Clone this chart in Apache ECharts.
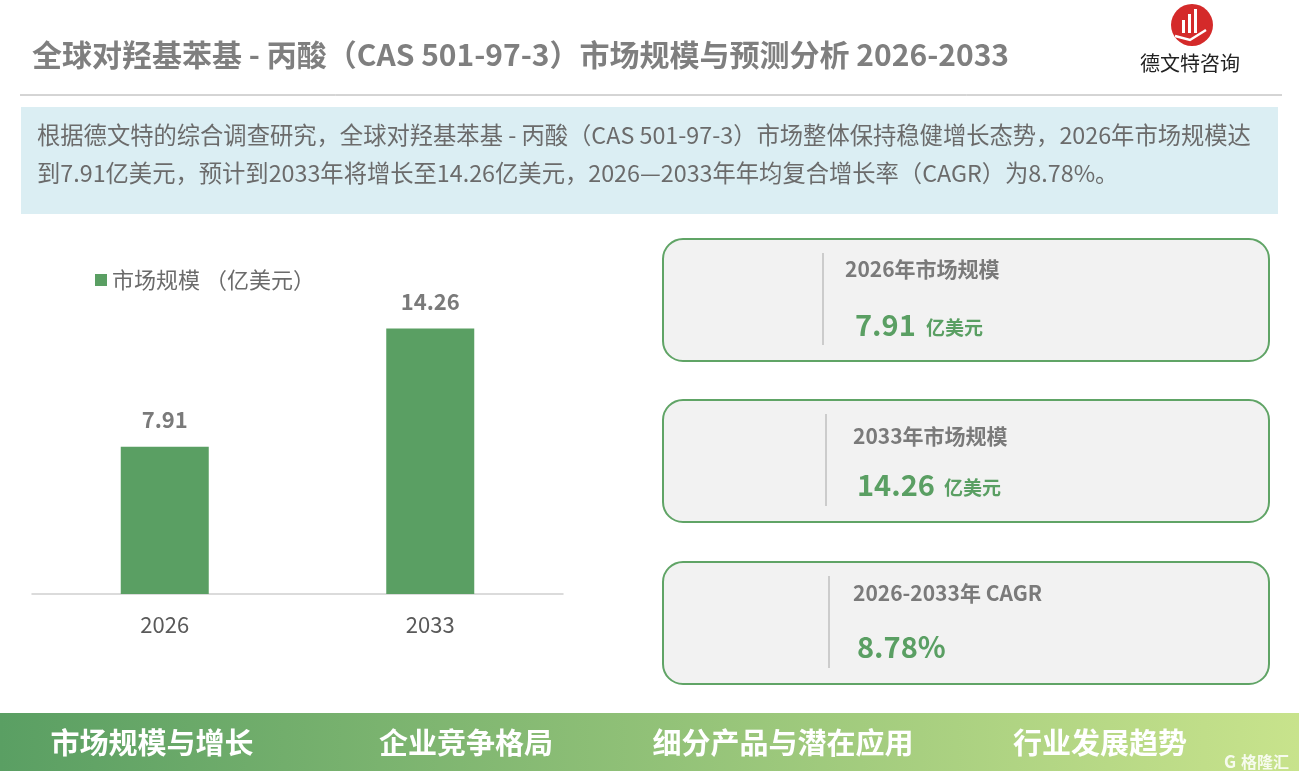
<!DOCTYPE html>
<html><head><meta charset="utf-8">
<script src="https://cdn.jsdelivr.net/npm/echarts@6/dist/echarts.min.js"></script>
<style>html,body{margin:0;padding:0;background:#fff}#c{width:1299px;height:780px}</style>
</head><body><div id="c"></div>
<script>
var categories = ['2026', '2033'];
var marketSize = [7.91, 14.26];
var seriesName = '市场规模 （亿美元）';
var cardTitles = ['2026年市场规模', '2033年市场规模', '2026-2033年 CAGR'];
var cardValues = ['7.91', '14.26', '8.78%'];
var cardUnits = ['亿美元', '亿美元', ''];
var bannerItems = ['市场规模与增长', '企业竞争格局', '细分产品与潜在应用', '行业发展趋势'];
var titleText = '全球对羟基苯基 - 丙酸（CAS 501-97-3）市场规模与预测分析 2026-2033';
var summaryLines = [
  '根据德文特的综合调查研究，全球对羟基苯基 - 丙酸（CAS 501-97-3）市场整体保持稳健增长态势，2026年市场规模达',
  '到7.91亿美元，预计到2033年将增长至14.26亿美元，2026—2033年年均复合增长率（CAGR）为8.78%。'
];

var FONT = '"Noto Sans CJK SC","Noto Sans",sans-serif';
var GREEN = '#5a9f63';
var chart = echarts.init(document.getElementById('c'));

var g = [];
// title
g.push({type:'text', x:32, y:55, style:{text:titleText, font:'bold 30px ' + FONT, fill:'#7f7f7f', textVerticalAlign:'middle'}});
// logo
g.push({type:'circle', shape:{cx:1192, cy:25, r:21}, style:{fill:'#d42a2a'}});
g.push({type:'rect', shape:{x:1182, y:20, width:3, height:13}, style:{fill:'#fff'}});
g.push({type:'rect', shape:{x:1188, y:14, width:3, height:19}, style:{fill:'#fff'}});
g.push({type:'rect', shape:{x:1194, y:9, width:3, height:24}, style:{fill:'#fff'}});
g.push({type:'polyline', shape:{points:[[1175,36],[1190,40],[1206,30]]}, style:{stroke:'#fff', lineWidth:2.5, fill:null}});
g.push({type:'text', x:1140, y:63, style:{text:'德文特咨询', font:'20px ' + FONT, fill:'#222', textVerticalAlign:'middle'}});
// rule
g.push({type:'line', shape:{x1:20, y1:95, x2:1282, y2:95}, style:{stroke:'#aaaaaa', lineWidth:1}});
// summary box
g.push({type:'rect', shape:{x:21, y:107, width:1257, height:107}, style:{fill:'#dbeef3'}});
g.push({type:'text', x:37, y:135, style:{text:summaryLines[0], font:'23.3px ' + FONT, fill:'#6b6b6b', textVerticalAlign:'middle'}});
g.push({type:'text', x:37, y:173, style:{text:summaryLines[1], font:'23.3px ' + FONT, fill:'#6b6b6b', textVerticalAlign:'middle'}});
// cards
var cardTops = [239, 400, 562];
var divX = [823, 826, 829];
var titleX = [845, 853, 853];
var valX = [855, 857, 857];
var titleDy = [30, 36, 31];
var valDy = [86, 85, 85];
for (var i = 0; i < 3; i++) {
  var t = cardTops[i];
  g.push({type:'rect', shape:{x:663, y:t, width:606, height:122, r:20}, style:{fill:'#f2f2f2', stroke:'#60a466', lineWidth:2}});
  g.push({type:'line', shape:{x1:divX[i], y1:t + 14, x2:divX[i], y2:t + 106}, style:{stroke:'#a6a6a6', lineWidth:1}});
  g.push({type:'text', x:titleX[i], y:t + titleDy[i], style:{text:cardTitles[i], font:'bold 21px ' + FONT, fill:'#7a7a7a', textVerticalAlign:'middle'}});
  g.push({type:'text', x:valX[i], y:t + valDy[i], style:{text:cardValues[i], font:'bold 29px ' + FONT, fill:GREEN, textVerticalAlign:'middle'}});
  if (cardUnits[i]) {
    g.push({type:'text', x:valX[i] + (cardValues[i].length === 4 ? 71 : 87), y:t + valDy[i] + 3, style:{text:cardUnits[i], font:'bold 19px ' + FONT, fill:GREEN, textVerticalAlign:'middle'}});
  }
}
// banner
g.push({type:'rect', shape:{x:0, y:713, width:1299, height:58}, style:{fill:new echarts.graphic.LinearGradient(0,0,1,0,[{offset:0,color:'#5a9f63'},{offset:1,color:'#c8e38c'}])}});
var bx = [152, 466, 783, 1100];
for (var j = 0; j < 4; j++) {
  g.push({type:'text', x:bx[j], y:743, style:{text:bannerItems[j], font:'bold 29px ' + FONT, fill:'#ffffff', textAlign:'center', textVerticalAlign:'middle'}});
}
g.push({type:'text', x:1241, y:762, style:{text:'格隆汇', font:'bold 16px ' + FONT, fill:'rgba(255,255,255,0.85)', textVerticalAlign:'middle'}});
g.push({type:'text', x:1230, y:762, style:{text:'G', font:'bold 17px ' + FONT, fill:'rgba(255,255,255,0.85)', textAlign:'center', textVerticalAlign:'middle'}});

chart.setOption({
  animation:false,
  textStyle:{fontFamily:FONT},
  legend:{show:true, left:90, top:264, itemWidth:12, itemHeight:12, icon:'rect', itemGap:6,
    textStyle:{fontSize:22, color:'#6b6b6b', fontFamily:FONT}, data:[seriesName]},
  grid:{left:32, width:531, top:296, height:298, containLabel:false},
  xAxis:{type:'category', data:categories,
    axisLine:{lineStyle:{color:'#d0d0d0', width:1.5}}, axisTick:{show:false},
    axisLabel:{fontSize:22, color:'#595959', margin:20, fontFamily:FONT}},
  yAxis:{type:'value', min:0, max:16, show:false, splitLine:{show:false}},
  series:[{type:'bar', name:seriesName, data:marketSize, barWidth:88, itemStyle:{color:GREEN},
    label:{show:true, position:'top', distance:16, fontSize:22, fontWeight:'bold', color:'#7a7a7a', fontFamily:FONT}}],
  graphic:g
});
</script></body></html>
